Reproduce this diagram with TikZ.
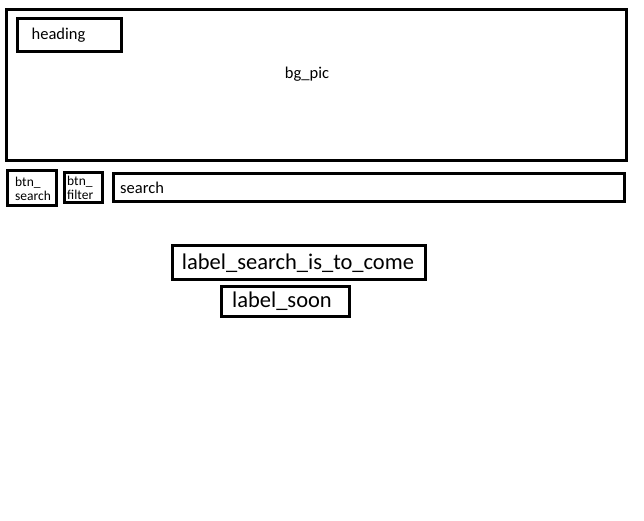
\documentclass[tikz,border=0pt]{standalone}
\usepackage{fontspec}
\setmainfont{Carlito}
\usetikzlibrary{positioning}

\begin{document}
\begin{tikzpicture}[x=1pt, y=-1pt,
    frame/.style={line width=3pt},
    txt/.style={inner sep=0pt, font=\fontsize{16.5}{18}\selectfont},
    smalltxt/.style={inner sep=0pt, align=left, font=\fontsize{13.5}{14}\selectfont},
    bigtxt/.style={inner sep=0pt, font=\fontsize{22.5}{25}\selectfont}]
    \useasboundingbox (0, 0) rectangle (644, 520);
    % top picture area
    \draw[frame] (6.5, 9.5) rectangle (626.5, 160.5);
    \draw[frame] (17.5, 18.5) rectangle (121.5, 51.5);
    \node[txt] (heading) at (58.5, 35.5) {heading};
    \node[txt] (bgpic) at (307, 74.5) {bg\_pic};
    % buttons and search bar
    \draw[frame] (7.5, 170.5) rectangle (56.5, 205.5);
    \node[smalltxt, anchor=west] (btnsearch) at (15, 189) {btn\_\\search};
    \draw[frame] (64.5, 172.5) rectangle (102.5, 202.5);
    \node[smalltxt, anchor=west] (btnfilter) at (67, 188) {btn\_\\filter};
    \draw[frame] (113.5, 173.5) rectangle (624.5, 201.5);
    \node[txt, anchor=west] (search) at (120, 187.5) {search};
    % labels
    \draw[frame] (172.5, 245.5) rectangle (425.5, 279.5);
    \node[bigtxt] (labelsearch) at (298, 263.5) {label\_search\_is\_to\_come};
    \draw[frame] (221.5, 286.5) rectangle (349.5, 316.5);
    \node[bigtxt] (labelsoon) at (282, 301) {label\_soon};
\end{tikzpicture}
\end{document}
